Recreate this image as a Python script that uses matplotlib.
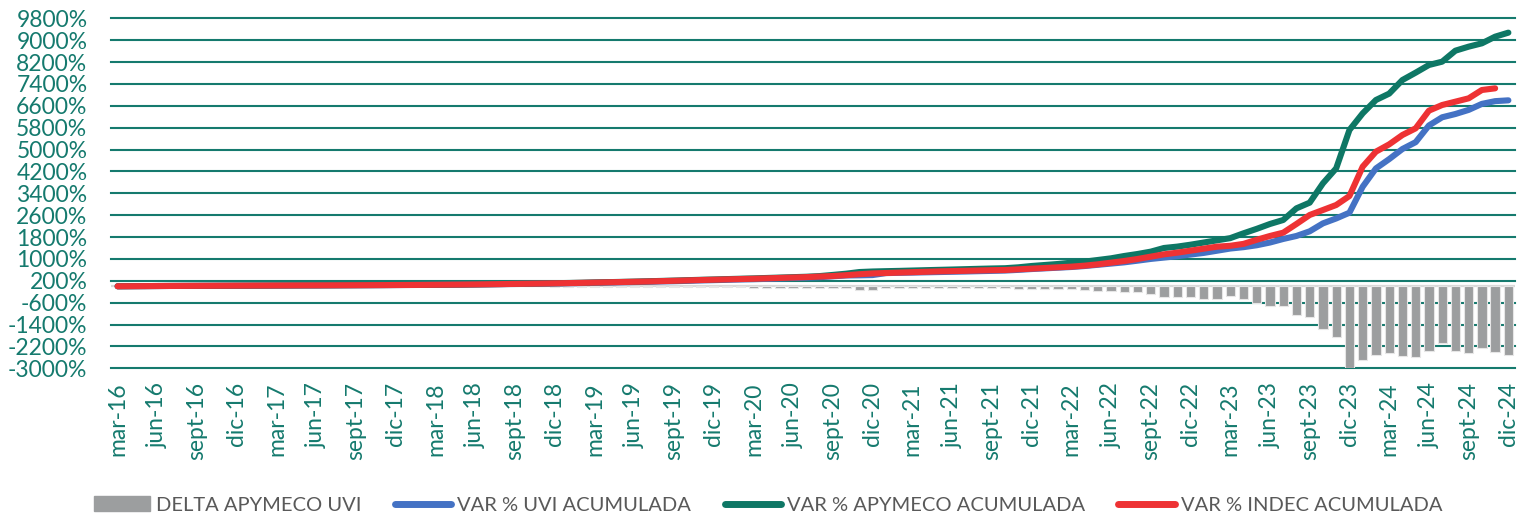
import numpy as np
import matplotlib
matplotlib.use("Agg")
import matplotlib.pyplot as plt
from matplotlib.patches import Patch
from matplotlib.lines import Line2D

plt.rcParams['font.family'] = ['Lato', 'DejaVu Sans']

# ---------------- data ----------------
month_abbr = ["mar", "abr", "may", "jun", "jul", "ago", "sept", "oct", "nov", "dic", "ene", "feb"]
months = []
for k in range(106):
    m = month_abbr[k % 12]
    yr = 16 + (k + 2) // 12
    months.append(f"{m}-{yr}")

delta_apymeco_uvi = [
    0, 0, 0, 0, -1, -1, -1, -1, -1, -1, -1, -1,
    -2, -2, -2, -2, -2, -2, -2, -2, -2, -3, -3, -3,
    -3, -3, -3, -4, -5, -5, -6, -7, -8, -9, -11, -12,
    -14, -15, -16, -17, -19, -20, -40, -40, -40, -45, -45, -45,
    -50, -50, -50, -50, -50, -50, -55, -60, -130, -130, -70, -70,
    -70, -70, -70, -70, -70, -70, -70, -80, -85, -90, -95, -100,
    -110, -130, -160, -190, -220, -220, -270, -400, -380, -400, -450, -450,
    -355, -476, -622, -721, -710, -1050, -1112, -1551, -1844, -3000, -2696, -2513,
    -2440, -2550, -2575, -2356, -2085, -2360, -2429, -2268, -2392, -2513,
]

var_uvi = [
    0, 3, 6, 9, 11, 13, 15, 17, 19, 21, 23, 25,
    27, 29, 31, 32, 34, 36, 38, 40, 42, 44, 46, 49,
    53, 57, 61, 66, 71, 77, 83, 89, 95, 102, 109, 117,
    126, 135, 144, 154, 163, 175, 185, 198, 212, 224, 236, 248,
    258, 272, 287, 302, 316, 332, 365, 395, 400, 410, 482, 492,
    500, 510, 520, 530, 540, 552, 563, 575, 600, 630, 655, 680,
    705, 740, 785, 830, 875, 936, 1000, 1050, 1100, 1160, 1220, 1300,
    1380, 1430, 1500, 1600, 1730, 1840, 2010, 2300, 2480, 2690, 3640, 4310,
    4650, 5020, 5270, 5880, 6180, 6300, 6450, 6670, 6770, 6800,
]

var_apymeco = [
    0, 3, 6, 9, 12, 14, 16, 18, 20, 22, 24, 26,
    29, 31, 33, 34, 36, 38, 40, 42, 44, 47, 49, 52,
    56, 60, 64, 70, 76, 82, 89, 96, 103, 111, 120, 129,
    140, 150, 160, 171, 182, 195, 208, 222, 236, 249, 262, 275,
    288, 303, 318, 333, 348, 372, 415, 460, 520, 540, 552, 562,
    575, 588, 600, 612, 625, 638, 650, 660, 693, 741, 778, 815,
    863, 900, 961, 1022, 1107, 1180, 1266, 1400, 1450, 1520, 1600, 1680,
    1760, 1936, 2100, 2278, 2424, 2850, 3058, 3765, 4313, 5715, 6324, 6812,
    7045, 7543, 7812, 8092, 8214, 8616, 8763, 8885, 9128, 9275,
]

var_indec = [
    0, 3, 6, 9, 12, 14, 16, 18, 20, 22, 24, 26,
    28, 30, 32, 33, 35, 37, 39, 41, 43, 46, 48, 51,
    55, 59, 63, 68, 74, 80, 87, 93, 100, 108, 116, 125,
    135, 145, 155, 165, 175, 188, 200, 214, 228, 240, 252, 264,
    275, 290, 305, 320, 335, 355, 375, 405, 440, 470, 485, 500,
    515, 530, 545, 555, 565, 578, 588, 595, 620, 644, 668, 693,
    717, 754, 802, 863, 924, 997, 1083, 1168, 1229, 1302, 1375, 1448,
    1480, 1550, 1700, 1839, 1960, 2278, 2607, 2789, 2972, 3301, 4374, 4923,
    5190, 5532, 5776, 6422, 6629, 6751, 6873, 7178, 7239, np.nan,
]

y_ticks = list(range(-3000, 9801, 800))

# ---------------- style ----------------
TEAL = "#157A6E"
C_BAR = "#9C9E9F"
C_BLUE = "#4472C4"
C_GREEN = "#0E7765"
C_RED = "#EE3234"
C_TXT = "#595959"

fig = plt.figure(figsize=(15.3, 5.18), dpi=100)
ax = fig.add_axes([111 / 1530, 1 - 368.3 / 518, (1515 - 111) / 1530, 350 / 518])

x = np.arange(len(months))

for yv in y_ticks:
    ax.axhline(yv, color=TEAL, lw=1.5, zorder=0, clip_on=False)

ax.bar(x, delta_apymeco_uvi, width=0.7, color=C_BAR, edgecolor="#E6E6E6",
       linewidth=0.8, zorder=2)
ax.axhline(0, color="#D9D9D9", lw=1.6, zorder=1.5)

lkw = dict(lw=4.4, solid_capstyle="round", solid_joinstyle="round", zorder=3)
ax.plot(x, var_uvi, color=C_BLUE, **lkw)
ax.plot(x, var_apymeco, color=C_GREEN, **lkw)
ax.plot(x, var_indec, color=C_RED, **lkw)

ax.set_xlim(-0.5, len(months) - 0.5)
ax.set_ylim(-3000, 9800)
ax.set_yticks(y_ticks)
ax.set_yticklabels([f"{v}%" for v in y_ticks])
tick_pos = x[::3]
ax.set_xticks(tick_pos)
ax.set_xticklabels([months[i] for i in tick_pos], rotation=90, va="top", ha="center")

ax.tick_params(axis="y", length=0, pad=17, labelsize=16.5, labelcolor=TEAL)
ax.tick_params(axis="x", length=0, pad=10, labelsize=16.5, labelcolor=TEAL)
for s in ax.spines.values():
    s.set_visible(False)

handles = [
    Patch(facecolor=C_BAR, edgecolor=C_BAR),
    Line2D([0], [0], color=C_BLUE, lw=5, solid_capstyle="round"),
    Line2D([0], [0], color=C_GREEN, lw=5, solid_capstyle="round"),
    Line2D([0], [0], color=C_RED, lw=5, solid_capstyle="round"),
]
labels = ["DELTA APYMECO UVI", "VAR % UVI ACUMULADA",
          "VAR % APYMECO ACUMULADA", "VAR % INDEC ACUMULADA"]
leg = fig.legend(handles, labels, loc="center", bbox_to_anchor=(0.502, 1 - 505 / 518),
                 ncol=4, frameon=False, fontsize=14.5, handlelength=2.8,
                 handleheight=0.75, handletextpad=0.3, columnspacing=1.65,
                 labelcolor=C_TXT)

fig.savefig("out.png", dpi=100)
